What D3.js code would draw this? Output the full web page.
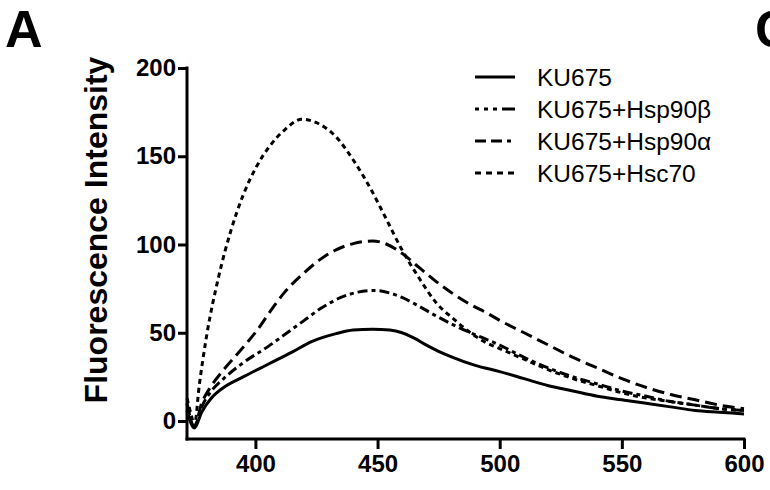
<!DOCTYPE html>
<html>
<head>
<meta charset="utf-8">
<script src="https://cdn.jsdelivr.net/npm/d3@7"></script>
<style>
  body { margin: 0; background: #fff; }
  svg { display: block; font-family: "Liberation Sans", Arial, sans-serif; }
</style>
</head>
<body>
<script>
// wavelength (nm) and intensity for each curve
const ku675X = [372, 375, 378, 382, 387, 395, 405, 415, 423, 433, 440, 448, 455, 460, 465, 470, 475, 480, 490, 500, 510, 520, 530, 540, 550, 560, 570, 580, 590, 600];
const ku675Y = [6, -4, 5, 13, 19, 25, 32, 39, 45, 49.5, 51.5, 52, 51.5, 50, 47, 43, 39.5, 36.5, 31.5, 28, 24, 20, 17, 14, 12, 10, 8, 6, 5, 4];

const hsp90bX = [372, 375, 378, 382, 387, 395, 405, 412, 420, 427, 435, 442, 449, 455, 460, 467, 474, 481, 488, 495, 500, 510, 520, 530, 540, 550, 560, 570, 580, 590, 600];
const hsp90bY = [10, -3, 8, 17, 24, 33, 42, 49, 57, 64, 70, 73, 74, 72.5, 70, 65, 59.5, 54.5, 50, 46, 43, 36, 30, 25, 21, 17, 14, 11, 9, 7, 6];

const hsp90aX = [372, 375, 378, 382, 387, 392, 397, 401, 406, 412, 420, 426, 433, 440, 448, 454, 460, 467, 474, 481, 488, 495, 500, 510, 520, 530, 540, 550, 560, 570, 580, 590, 600];
const hsp90aY = [10, -3, 10, 20, 29, 37, 45, 52, 62, 73, 84, 91, 97, 100.5, 102, 100, 95, 87, 79, 72, 66, 61, 57, 50, 43, 36, 30, 24, 19, 15, 12, 9, 7];

const hsc70X = [372, 374, 375, 377, 380, 385, 390, 395, 400, 406, 412, 419, 425, 433, 440, 447, 453, 460, 467, 474, 481, 488, 495, 500, 510, 520, 530, 540, 550, 560, 570, 580, 590, 600];
const hsc70Y = [13, 2, -3, 20, 48, 82, 108, 128, 143, 156, 165, 171, 169, 161, 148, 132, 116, 97, 81, 67, 58, 50, 44, 41, 35, 29, 24, 20, 16, 13, 11, 9, 7, 6];

const seriesNames = ["KU675", "KU675+Hsp90\u03b2", "KU675+Hsp90\u03b1", "KU675+Hsc70"];
const xTicks = [400, 450, 500, 550, 600];
const yTicks = [0, 50, 100, 150, 200];

const series = [
  { name: seriesNames[0], xs: ku675X, ys: ku675Y, dash: null, legDash: null },
  { name: seriesNames[1], xs: hsp90bX, ys: hsp90bY, dash: "10,4,4,4", legDash: "4,5,4,5,4,5,14,5" },
  { name: seriesNames[2], xs: hsp90aX, ys: hsp90aY, dash: "12,6", legDash: "11,5,11,5,4,5" },
  { name: seriesNames[3], xs: hsc70X, ys: hsc70Y, dash: "5,4", legDash: "6,5" }
];

const W = 770, H = 490;
const svg = d3.select("body").append("svg")
  .attr("width", W)
  .attr("height", H);

const x = d3.scaleLinear().domain([372, 600]).range([187, 744]);
const y = d3.scaleLinear().domain([0, 200]).range([421, 68]);
const xAxisY = 439;

// y axis
const yAxis = svg.append("g")
  .attr("transform", "translate(187,0)")
  .call(d3.axisLeft(y).tickValues(yTicks).tickSize(9).tickPadding(2).tickSizeOuter(0));
yAxis.select(".domain").remove();
yAxis.selectAll("line").attr("stroke", "#000").attr("stroke-width", 3);
yAxis.selectAll("text")
  .attr("font-size", 24).attr("font-weight", "bold").attr("fill", "#000")
  .attr("font-family", "Liberation Sans, Arial, sans-serif");

svg.append("line")
  .attr("x1", 187).attr("x2", 187)
  .attr("y1", y(200) - 1.5).attr("y2", xAxisY + 1.5)
  .attr("stroke", "#000").attr("stroke-width", 3);

// x axis
const xAxis = svg.append("g")
  .attr("transform", `translate(0,${xAxisY})`)
  .call(d3.axisBottom(x).tickValues(xTicks).tickSize(10).tickPadding(6).tickSizeOuter(0));
xAxis.select(".domain").remove();
xAxis.selectAll("line").attr("stroke", "#000").attr("stroke-width", 3);
xAxis.selectAll("text")
  .attr("font-size", 24).attr("font-weight", "bold").attr("fill", "#000")
  .attr("font-family", "Liberation Sans, Arial, sans-serif");

svg.append("line")
  .attr("x1", 185.5).attr("x2", x(600) + 1.5)
  .attr("y1", xAxisY).attr("y2", xAxisY)
  .attr("stroke", "#000").attr("stroke-width", 3);

// axis title
svg.append("text")
  .attr("transform", "translate(107,230) rotate(-90)")
  .attr("text-anchor", "middle")
  .attr("font-size", 32)
  .attr("font-weight", "bold")
  .text("Fluorescence Intensity");

// curves
const line = d3.line()
  .x(d => x(d[0]))
  .y(d => y(d[1]))
  .curve(d3.curveMonotoneX);

svg.selectAll("path.curve")
  .data(series)
  .enter().append("path")
  .attr("class", "curve")
  .attr("d", s => line(s.xs.map((v, i) => [v, s.ys[i]])))
  .attr("fill", "none")
  .attr("stroke", "#000")
  .attr("stroke-width", 3)
  .attr("stroke-dasharray", s => s.dash);

// legend
const legend = svg.append("g").attr("transform", "translate(475,77)");
const rows = legend.selectAll("g")
  .data(series)
  .enter().append("g")
  .attr("transform", (d, i) => `translate(0,${i * 32})`);
rows.append("line")
  .attr("x1", 0).attr("x2", 40)
  .attr("stroke", "#000").attr("stroke-width", 3)
  .attr("stroke-dasharray", d => d.legDash);
rows.append("text")
  .attr("x", 62).attr("dy", "0.35em")
  .attr("font-size", 24.5)
  .text(d => d.name);

// panel letters
svg.append("text")
  .attr("x", 5).attr("y", 47)
  .attr("font-size", 52).attr("font-weight", "bold")
  .text("A");
svg.append("text")
  .attr("x", 755).attr("y", 47)
  .attr("font-size", 52).attr("font-weight", "bold")
  .text("C");
</script>
</body>
</html>
